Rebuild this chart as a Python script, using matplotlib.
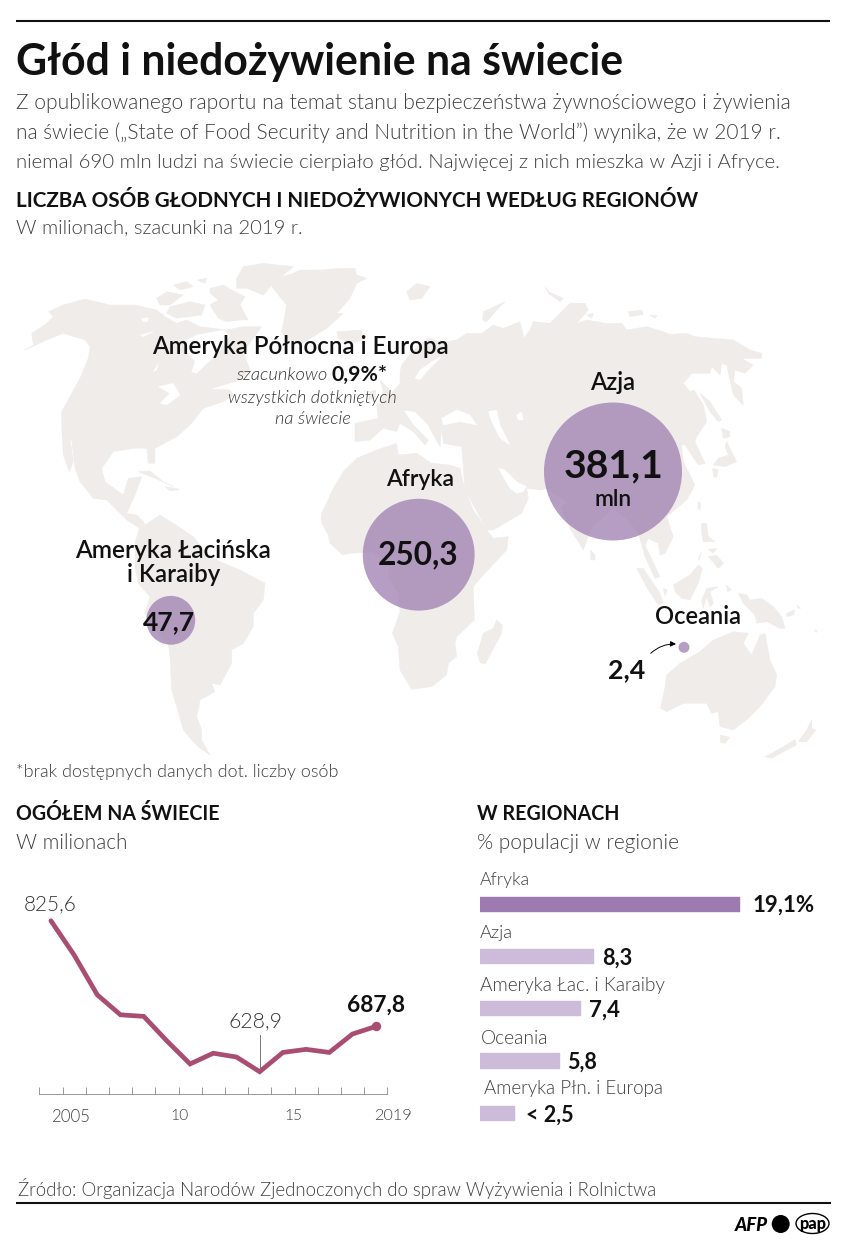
import numpy as np
import matplotlib
matplotlib.use("Agg")
import matplotlib.pyplot as plt
from matplotlib.patches import Polygon, Circle, Ellipse, FancyArrowPatch

# ---------- data ----------
years = list(range(2005, 2020))
hungry = [825.6, 781, 729, 703, 701, 669, 639, 653, 648, 628.9, 654, 658, 654, 678, 687.8]
year_labels = ["2005", "10", "15", "2019"]

regions = ["Azja", "Afryka", "Ameryka Łacińska\ni Karaiby", "Oceania"]
region_mln = [381.1, 250.3, 47.7, 2.4]

share_regions = ["Afryka", "Azja", "Ameryka Łac. i Karaiby", "Oceania", "Ameryka Płn. i Europa"]
share_values = [19.1, 8.3, 7.4, 5.8, 2.5]
share_labels = ["19,1%", "8,3", "7,4", "5,8", "< 2,5"]

W, H = 848, 1250
FONT = "Lato"
LAND = "#efecea"
INK = "#111111"
GREY = "#3f3f3f"
LIGHT = 320
SEMI = 600
plt.rcParams["font.family"] = [FONT, "DejaVu Sans"]

fig = plt.figure(figsize=(W / 100, H / 100), dpi=100, facecolor="white")
ax = fig.add_axes([0, 0, 1, 1])
ax.set_xlim(0, W)
ax.set_ylim(H, 0)
ax.axis("off")
renderer = fig.canvas.get_renderer()


def seg(ox, oy, pts):
    return [(ox + x / 3, oy + y / 3) for x, y in pts]


def land(*parts, color=LAND, z=1):
    pts = []
    for p in parts:
        pts += p
    ax.add_patch(Polygon(pts, closed=True, fc=color, ec=color, lw=0.3, zorder=z))


Z5, Z6, Z7, Z8, Z9, Z10 = (10, 255), (300, 255), (570, 255), (60, 500), (310, 480), (570, 500)

# North America
land(seg(*Z5, [(40, 287), (70, 270), (65, 235), (110, 205), (130, 185), (115, 170), (160, 150), (225, 132),
               (300, 150), (375, 150), (440, 165), (465, 185), (500, 205), (530, 195), (570, 215), (650, 225),
               (700, 215), (755, 215), (730, 250), (700, 290), (720, 345), (690, 375), (600, 402), (660, 405),
               (670, 420), (640, 440), (580, 460), (540, 510), (500, 545), (435, 580), (435, 625), (415, 625),
               (410, 580), (370, 580), (310, 590), (275, 640), (285, 680), (340, 720), (355, 670), (395, 665),
               (375, 720), (350, 775)]),
     seg(*Z8, [(230, 45), (250, 65), (255, 78), (235, 82), (200, 60), (175, 35), (140, 0)]),
     seg(*Z5, [(250, 730), (210, 680), (195, 640), (185, 555), (180, 550), (190, 620), (178, 650), (160, 600),
               (155, 520), (155, 470), (210, 370), (235, 310), (240, 275), (225, 255), (160, 235), (110, 255)]))
# Hudson Bay, lakes
land(seg(*Z5, [(520, 260), (560, 240), (640, 225), (660, 240), (620, 300), (585, 330), (560, 355), (545, 350),
               (555, 320), (530, 290)]), color="white", z=1.1)
land(seg(*Z5, [(445, 395), (490, 385), (510, 420), (470, 450), (450, 445), (480, 415)]), color="white", z=1.1)
land(seg(*Z5, [(430, 350), (445, 325), (440, 345)]), color="white", z=1.1)
land(seg(*Z5, [(390, 240), (430, 230), (400, 245)]), color="white", z=1.1)
land(seg(*Z5, [(395, 190), (415, 188), (412, 200), (398, 200)]), color="white", z=1.1)
# Arctic Canada
land(seg(*Z5, [(440, 130), (470, 110), (520, 120), (480, 150), (450, 150)]))
land(seg(*Z5, [(490, 90), (530, 80), (550, 95), (510, 105)]))
land(seg(*Z5, [(560, 75), (590, 70), (585, 85)]))
land(seg(*Z5, [(480, 155), (540, 140), (585, 150), (575, 180), (500, 190), (470, 175)]))
land(seg(*Z5, [(600, 100), (640, 90), (665, 105), (705, 125), (690, 150), (715, 195), (690, 195), (650, 200),
               (625, 190), (600, 150), (625, 135), (600, 115)]))
land(seg(*Z5, [(680, 70), (700, 35), (760, 25), (850, 35), (790, 85), (760, 120), (710, 100), (680, 100)]))
# Greenland
land(seg(*Z5, [(785, 95), (800, 70), (850, 55)]),
     seg(*Z6, [(0, 45), (60, 45), (120, 40), (165, 40), (170, 60), (200, 70), (170, 85), (150, 130), (110, 175),
               (130, 175), (80, 220), (40, 245)]),
     seg(*Z5, [(870, 270), (830, 250), (815, 230), (830, 150)]))
# Caribbean
land(seg(*Z5, [(385, 650), (420, 648), (460, 680), (490, 695), (440, 672)]))
land(seg(*Z5, [(465, 695), (510, 703), (480, 708)]))
# South America
land(seg(*Z8, [(240, 75), (255, 75), (300, 45), (340, 70), (400, 110), (440, 160), (480, 185), (540, 210), (615, 250),
               (610, 300), (580, 340), (580, 380), (550, 430), (515, 450), (515, 490), (480, 555), (455, 550),
               (465, 575), (420, 600), (415, 630), (410, 650), (425, 690), (425, 720), (450, 765), (420, 745),
               (395, 720), (370, 690), (350, 620), (335, 570), (330, 470), (325, 430), (270, 375), (255, 340),
               (270, 290), (235, 250), (225, 200), (225, 130)]))
# Africa
land(seg(*Z9, [(35, 100), (70, 25), (100, -25), (140, -65), (200, -90), (260, -110), (265, -75), (320, -80),
               (365, -50), (420, -45), (450, -35), (465, 30), (490, 90), (530, 150), (550, 175), (595, 170),
               (590, 210), (515, 290), (490, 320), (493, 420), (440, 470), (435, 490), (440, 530), (415, 550),
               (410, 585), (365, 620), (305, 628), (270, 570), (265, 500), (247, 460), (270, 395), (265, 340),
               (235, 290), (240, 260), (190, 215), (120, 220), (98, 225), (60, 190), (55, 165), (33, 125)]))
land(seg(*Z9, [(560, 420), (577, 435), (575, 460), (525, 552), (510, 548), (502, 520), (520, 460), (550, 445)]))
# Eurasia
land(seg(*Z6, [(165, 560), (165, 505), (235, 490), (230, 450), (270, 420), (300, 385), (300, 350), (305, 330),
               (340, 285), (385, 250), (430, 262), (470, 255), (500, 235), (545, 235), (580, 210), (610, 220),
               (660, 200), (672, 250), (690, 225), (700, 200), (750, 205)]),
     seg(*Z7, [(0, 145), (45, 145), (55, 165), (20, 205), (50, 195), (110, 205), (155, 205), (170, 225), (230, 215),
               (280, 230), (300, 238), (350, 235), (375, 245), (430, 250), (490, 255), (540, 285), (575, 295),
               (575, 310), (515, 310), (550, 330), (525, 355), (495, 345), (490, 380), (515, 400), (520, 450),
               (490, 420), (470, 330), (455, 325), (450, 360), (425, 335), (420, 355), (365, 355), (340, 385),
               (360, 410), (372, 405), (400, 450), (410, 500), (380, 545), (375, 560), (405, 625), (385, 630),
               (345, 570), (335, 570), (340, 620), (375, 690), (350, 735)]),
     seg(*Z10, [(290, 50), (310, 110), (285, 160), (270, 165), (265, 130), (235, 115), (225, 135), (270, 230),
                (255, 235), (225, 170), (205, 100), (175, 60), (130, 25), (65, 80), (40, 150), (0, 85)]),
     seg(*Z9, [(755, 85), (770, 65), (710, 25), (690, 30), (650, 25), (655, 55), (635, 100), (610, 115), (550, 150),
               (530, 150), (495, 85), (465, 30)]),
     seg(*Z6, [(490, 640), (485, 575), (430, 565), (425, 520), (420, 575), (400, 540), (385, 510), (345, 470),
               (310, 465), (340, 510), (385, 555), (375, 570), (340, 530), (300, 505), (290, 530), (250, 520),
               (210, 555)]))
# Inner seas
land(seg(*Z6, [(425, 490), (470, 465), (510, 480), (530, 510), (480, 500), (430, 510)]), color="white", z=1.1)
land(seg(*Z6, [(565, 470), (590, 465), (600, 510), (630, 570), (600, 550), (575, 500)]), color="white", z=1.1)
land(seg(*Z6, [(650, 480), (665, 470), (670, 495), (655, 495)]), color="white", z=1.1)
land(seg(*Z6, [(345, 370), (360, 345), (395, 320), (425, 305), (400, 330), (380, 350), (360, 375)]), color="white", z=1.1)
land(seg(*Z9, [(565, -35), (585, -30), (620, 5), (650, 20), (640, 35), (620, 40), (600, 25)]), color="white", z=1.1)
# Islands: Europe and Arctic
land(seg(*Z6, [(240, 375), (265, 400), (275, 425), (235, 440), (250, 410)]))
land(seg(*Z6, [(210, 410), (228, 405), (225, 430), (205, 435)]))
land(seg(*Z6, [(110, 230), (185, 225), (190, 255), (150, 265), (115, 250)]))
land(seg(*Z6, [(320, 110), (350, 85), (390, 95), (365, 130), (330, 135)]))
land(seg(*Z6, [(550, 170), (615, 140), (590, 165), (560, 200), (548, 195)]))
land(seg(*Z6, [(735, 95), (745, 110), (790, 130), (780, 140), (745, 115)]))
land(seg(*Z7, [(175, 170), (215, 165), (220, 178), (180, 185)]))
land(seg(*Z7, [(238, 180), (262, 182), (255, 190)]))
land(seg(*Z7, [(50, 180), (70, 175), (65, 190)]))
# East Asia islands
land(seg(*Z7, [(470, 560), (500, 620), (465, 635), (430, 630), (445, 610), (475, 600), (465, 575)]))
land(seg(*Z7, [(455, 520), (480, 530), (480, 545), (460, 550)]))
land(seg(*Z7, [(428, 640), (445, 645), (440, 668), (430, 665)]))
land(seg(*Z7, [(390, 415), (420, 440), (455, 495), (445, 500), (420, 470)]))
land(seg(*Z7, [(385, 740), (392, 745), (390, 765), (383, 760)]))
land(seg(*Z10, [(62, 150), (75, 165), (75, 180), (62, 180)]))
# South-East Asia and Pacific
land(seg(*Z10, [(200, 205), (220, 205), (270, 280), (280, 310), (265, 315), (235, 270)]))
land(seg(*Z10, [(280, 265), (292, 270), (285, 288)]))
land(seg(*Z10, [(310, 255), (360, 225), (385, 195), (397, 205), (385, 250), (360, 300), (335, 295), (315, 275)]))
land(seg(*Z10, [(395, 300), (410, 265), (445, 260), (420, 275), (430, 310), (420, 320), (410, 290), (400, 325)]))
land(seg(*Z10, [(395, 70), (410, 70), (415, 110), (435, 125), (400, 125), (395, 100)]))
land(seg(*Z10, [(415, 170), (440, 165), (460, 190), (445, 205), (420, 175)]))
land(seg(*Z10, [(415, 148), (440, 145), (430, 160)]))
land(seg(*Z10, [(385, 175), (395, 155), (388, 182)]))
land(seg(*Z10, [(505, 280), (530, 285), (540, 300), (575, 295), (610, 320), (635, 350), (645, 385), (630, 385),
                (590, 365), (560, 370), (555, 345), (520, 310)]))
land(seg(*Z10, [(470, 255), (485, 270), (472, 275)]))
land(seg(*Z10, [(650, 340), (675, 330), (670, 345), (650, 350)]))
land(seg(*Z10, [(680, 315), (692, 325), (685, 325)]))
land(seg(*Z10, [(733, 390), (742, 392), (738, 398)]))
# Australia and New Zealand
land(seg(*Z10, [(272, 625), (285, 560), (290, 525), (330, 490), (390, 455), (430, 420), (455, 410), (490, 395),
                (535, 400), (520, 430), (545, 465), (570, 405), (585, 400), (600, 480), (620, 525), (615, 560),
                (570, 620), (535, 655), (490, 690), (450, 680), (445, 635), (425, 640), (410, 610), (340, 610),
                (290, 635)]))
land(seg(*Z10, [(450, 705), (480, 712), (465, 730), (452, 728)]))
land(seg(*Z10, [(725, 660), (725, 685), (738, 690), (710, 725), (685, 725), (710, 690)]))
land(seg(*Z10, [(675, 718), (640, 740), (605, 760), (585, 770), (605, 775), (650, 750), (680, 735)]))


def fit(x, x2, y, s, weight="normal", color=INK, style="normal", ha="left", z=5):
    """Place text with its centre line at y, sized so it spans from x to x2."""
    t = ax.text(x if ha == "left" else (x + x2) / 2, y, s, fontsize=12, fontweight=weight, fontstyle=style,
                color=color, ha=ha, va="center_baseline", zorder=z)
    for _ in range(3):
        w = t.get_window_extent(renderer).width
        t.set_fontsize(t.get_fontsize() * (x2 - x) / w)
    return t


# ---------- header ----------
ax.plot([16, 830], [21, 21], color="#111111", lw=1.5, zorder=5, solid_capstyle="butt")
ax.plot([16, 831], [1203, 1203], color="#111111", lw=1.5, zorder=5, solid_capstyle="butt")
fit(16, 624, 58, "Głód i niedożywienie na świecie", weight="bold")
fit(16, 788, 101, "Z opublikowanego raportu na temat stanu bezpieczeństwa żywnościowego i żywienia", color=GREY, weight=LIGHT)
fit(16, 785, 131, "na świecie („State of Food Security and Nutrition in the World”) wynika, że w 2019 r.", color=GREY, weight=LIGHT)
fit(16, 788, 161, "niemal 690 mln ludzi na świecie cierpiało głód. Najwięcej z nich mieszka w Azji i Afryce.", color=GREY, weight=LIGHT)
fit(16, 697, 199, "LICZBA OSÓB GŁODNYCH I NIEDOŻYWIONYCH WEDŁUG REGIONÓW", weight="bold")
fit(16, 302, 227, "W milionach, szacunki na 2019 r.", color=GREY, weight=LIGHT)

# ---------- map circles (area proportional to value) ----------
centres = [(613, 471.5), (418.7, 554.7), (170.8, 620.3), (684, 647.3)]
scale = 69 / np.sqrt(region_mln[0])
for (cx, cy), v in zip(centres, region_mln):
    ax.add_patch(Circle((cx, cy), np.sqrt(v) * scale, fc="#a385b4", ec="none", alpha=0.8, zorder=3))

fit(590, 635, 381, regions[0], weight=SEMI)
fit(564, 664, 463, f"{region_mln[0]:.1f}".replace(".", ","), weight="bold")
fit(595, 632, 497, "mln", weight=SEMI)
fit(386, 454, 478, regions[1], weight=SEMI)
fit(378, 459, 552, f"{region_mln[1]:.1f}".replace(".", ","), weight="bold")
fit(75, 270, 548, regions[2].split("\n")[0], weight=SEMI)
fit(127, 220, 573, regions[2].split("\n")[1], weight=SEMI)
fit(143, 195, 620, f"{region_mln[2]:.1f}".replace(".", ","), weight="bold")
fit(655, 741, 615, regions[3], weight=SEMI)
fit(608, 645, 668, f"{region_mln[3]:.1f}".replace(".", ","), weight="bold")
ax.add_patch(FancyArrowPatch((650.7, 653.3), (676, 644), connectionstyle="arc3,rad=-0.2", arrowstyle="-|>",
                             mutation_scale=8, lw=0.7, color="black", zorder=5, shrinkA=0, shrinkB=0))

fit(152, 448, 344, "Ameryka Północna i Europa", weight=SEMI)
fit(237, 328, 373, "szacunkowo", color="#333333", style="italic", weight=LIGHT)
fit(332, 388, 373, "0,9%*", weight="bold")
fit(228, 397, 396, "wszystkich dotkniętych", color="#333333", style="italic", weight=LIGHT)
fit(275, 351, 418, "na świecie", color="#333333", style="italic", weight=LIGHT)
fit(16, 339, 771, "*brak dostępnych danych dot. liczby osób", color=GREY, weight=LIGHT)

# ---------- lower headers ----------
fit(16, 221, 812, "OGÓŁEM NA ŚWIECIE", weight="bold")
fit(16, 126, 841, "W milionach", color=GREY, weight=LIGHT)
fit(477, 619, 812, "W REGIONACH", weight="bold")
fit(477, 680, 841, "% populacji w regionie", color=GREY, weight=LIGHT)

# ---------- line chart ----------
LINE = "#a94e72"
lax = fig.add_axes([39.3 / W, 1 - 1094 / H, 348 / W, 194 / H])
lax.patch.set_alpha(0)
lax.plot(years, hungry, color=LINE, lw=3.4, solid_joinstyle="miter", solid_capstyle="round", zorder=3)
lax.plot(years[-1], hungry[-1], "o", color=LINE, ms=6.8, mec="none", zorder=4)
lax.plot([2014, 2014], [631, 677], color="#777777", lw=0.7, zorder=2)
lax.set_xlim(2004.5, 2019.5)
lax.set_ylim(599.85, 852.6)
lax.set_xticks(np.arange(2004.5, 2020, 1))
lax.set_xticklabels([])
lax.set_yticks([])
lax.tick_params(axis="x", direction="in", length=5.2, width=0.6, color="#888888")
for s in ("top", "left", "right"):
    lax.spines[s].set_visible(False)
lax.spines["bottom"].set_color("#888888")
lax.spines["bottom"].set_linewidth(0.6)

fit(24, 77, 902, f"{hungry[0]:.1f}".replace(".", ","), color="#333333", weight=LIGHT)
fit(229, 283, 1019, f"{hungry[9]:.1f}".replace(".", ","), color="#333333", weight=LIGHT)
fit(347, 405, 1003, f"{hungry[-1]:.1f}".replace(".", ","), weight="bold")
for s, (a, b) in zip(year_labels, [(51, 90), (170, 188), (284, 302), (374, 412)]):
    fit(a, b, 1115, s, color=GREY, weight=LIGHT)

# ---------- bars ----------
bax = fig.add_axes([480 / W, 1 - 1130 / H, 368 / W, 245 / H])
bar_colors = ["#9d7bb0"] + ["#cdbcd9"] * 4
for i, (v, c) in enumerate(zip(share_values, bar_colors)):
    bars = bax.barh(i, v, height=0.27, color=c, edgecolor=c, linewidth=1.0)
    bars[0].set_joinstyle("round")
bax.set_xlim(0, 368 / 13.58)
bax.set_ylim(4.331, -0.358)
bax.axis("off")

name_pos = [(480, 530, 878), (480, 513, 931.7), (480, 665, 984), (481, 548, 1036.7), (483.5, 663, 1087)]
for s, (a, b, y) in zip(share_regions, name_pos):
    fit(a, b, y, s, color=GREY, weight=LIGHT)
val_pos = [(752.7, 815, 903.5), (601.7, 632, 956.5), (589, 620, 1008.5), (567.3, 597.3, 1060.5), (525.7, 573.3, 1113)]
for s, (a, b, y) in zip(share_labels, val_pos):
    fit(a, b, y, s, weight="bold", z=6)

# ---------- source and logos ----------
fit(18, 657, 1187, "Źródło: Organizacja Narodów Zjednoczonych do spraw Wyżywienia i Rolnictwa", color=GREY, weight=LIGHT)
fit(735, 768, 1224, "AFP", weight="black", style="italic", color="black")
ax.add_patch(Circle((780.7, 1224), 9, fc="black", ec="none", zorder=5))
ax.add_patch(Ellipse((812.5, 1223.5), 33, 20, fc="white", ec="black", lw=1.0, zorder=5))
fit(799, 826, 1223, "pap", weight="black", color="black", z=6)

fig.savefig("out.png", dpi=100)
